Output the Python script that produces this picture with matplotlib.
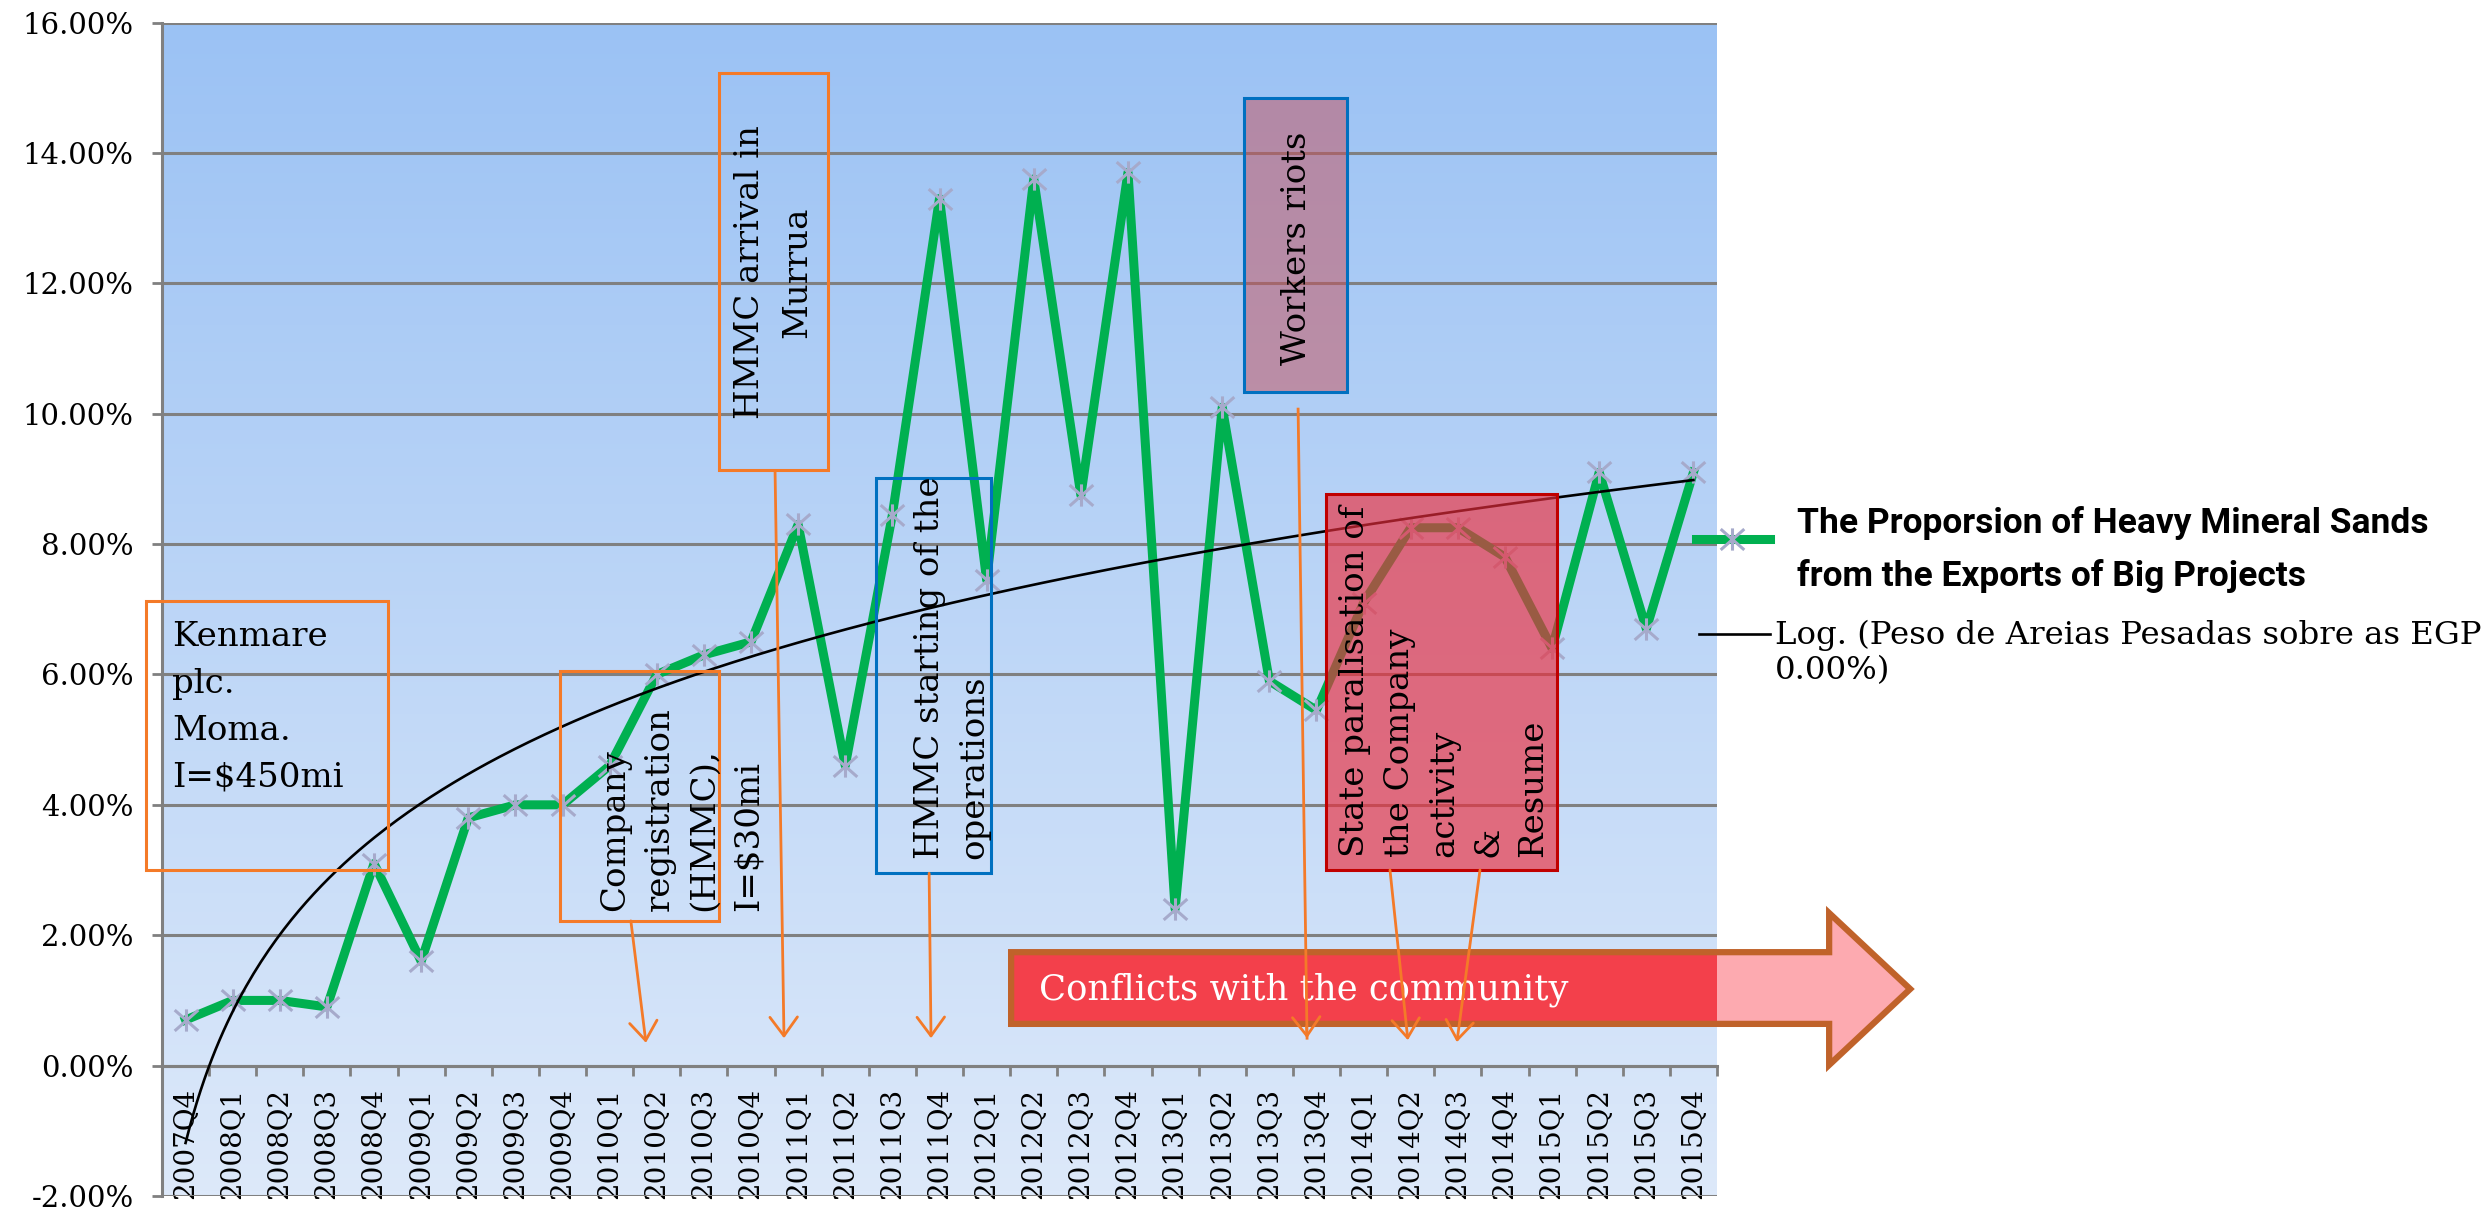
import numpy as np
import matplotlib.pyplot as plt
from matplotlib.colors import LinearSegmentedColormap
from matplotlib.patches import Rectangle, Polygon
from matplotlib.lines import Line2D
from matplotlib.path import Path

plt.rcParams['font.family'] = 'DejaVu Serif'

quarters = ['2007Q4', '2008Q1', '2008Q2', '2008Q3', '2008Q4', '2009Q1', '2009Q2',
            '2009Q3', '2009Q4', '2010Q1', '2010Q2', '2010Q3', '2010Q4', '2011Q1',
            '2011Q2', '2011Q3', '2011Q4', '2012Q1', '2012Q2', '2012Q3', '2012Q4',
            '2013Q1', '2013Q2', '2013Q3', '2013Q4', '2014Q1', '2014Q2', '2014Q3',
            '2014Q4', '2015Q1', '2015Q2', '2015Q3', '2015Q4']
# share of heavy mineral sands in big-project exports (%)
share = [0.7, 1.0, 1.0, 0.9, 3.1, 1.6, 3.8, 4.0, 4.0, 4.6, 6.0, 6.3, 6.5, 8.3,
         4.6, 8.45, 13.3, 7.45, 13.6, 8.75, 13.7, 2.4, 10.1, 5.9, 5.45, 7.1,
         8.25, 8.25, 7.8, 6.4, 9.1, 6.7, 9.1]
yticks = [-2, 0, 2, 4, 6, 8, 10, 12, 14, 16]

green = '#00B050'
orange = '#F47A28'
blue = '#0070C0'
grey = '#808080'
star_col = '#A6AACB'

# excel style star marker: vertical stroke plus an x
star = Path([(0, -0.8), (0, 0.8), (-0.85, -0.75), (0.85, 0.75), (-0.85, 0.75), (0.85, -0.75)],
            [Path.MOVETO, Path.LINETO, Path.MOVETO, Path.LINETO, Path.MOVETO, Path.LINETO])

fig = plt.figure(figsize=(24.86, 12.10), dpi=100)
ax = fig.add_axes([162 / 2486, 1 - 1196 / 1210, 1555 / 2486, (1196 - 22.5) / 1210])

x = np.arange(len(quarters))

# plot area gradient
bg = LinearSegmentedColormap.from_list('bg', ['#DDE9FA', '#9BC2F4'])
ax.imshow(np.linspace(0, 1, 256).reshape(-1, 1), extent=[-0.5, 32.5, -2, 16],
          aspect='auto', cmap=bg, origin='lower', zorder=0)

ax.plot(x, share, color=green, lw=6.5, marker=star, ms=17, mec=star_col, mew=2.2,
        zorder=3)

# logarithmic trend line
xf = np.arange(1, len(share) + 1)
a, b = np.polyfit(np.log(xf), share, 1)
xs = np.linspace(1, len(share), 400)
ax.plot(xs - 1, a * np.log(xs) + b, color='black', lw=1.9, zorder=4)

ax.set_xlim(-0.5, 32.5)
ax.set_ylim(-2, 16)

for s in ['top', 'right']:
    ax.spines[s].set_visible(False)
ax.spines['left'].set_color(grey)
ax.spines['left'].set_linewidth(2.2)
ax.spines['bottom'].set_position(('data', 0))
ax.spines['bottom'].set_color(grey)
ax.spines['bottom'].set_linewidth(2.2)

ax.set_yticks(yticks)
ax.set_yticklabels([f'{v:.2f}%' for v in yticks])
ax.tick_params(axis='y', direction='out', length=7.5, width=2, color=grey,
               labelsize=21, pad=13)
ax.yaxis.grid(True, color=grey, lw=2.2)
ax.set_axisbelow(True)

ax.set_xticks(x)
ax.set_xticklabels(quarters, rotation=90)
ax.set_xticks(np.arange(-0.5, 33, 1), minor=True)
ax.tick_params(axis='x', which='major', length=0, labelsize=20, pad=16)
ax.tick_params(axis='x', which='minor', direction='out', length=7.5, width=2, color=grey)


def box(x0, y0, x1, y1, edge, face='none', z=5):
    ax.add_patch(Rectangle((x0, y0), x1 - x0, y1 - y0, facecolor=face, edgecolor=edge,
                           lw=2.2, clip_on=False, zorder=z))


def pointer(x0, y0, x1, y1):
    ax.annotate('', xy=(x1, y1), xytext=(x0, y0), zorder=8,
                arrowprops=dict(arrowstyle='->, head_length=0.45, head_width=0.33',
                                color=orange, lw=2, mutation_scale=30,
                                shrinkA=0, shrinkB=0))


note = dict(fontsize=24.5, zorder=9)

# Kenmare
box(-0.84, 3.0, 4.30, 7.12, orange)
ax.text(-0.29, 6.82, 'Kenmare\nplc.\nMoma.\nI=\\$450mi', ha='left', va='top',
        linespacing=1.6, **note)
pointer(0.35, 3.0, -0.80, 0.51)

# HMMC arrival
box(11.32, 9.13, 13.63, 15.22, orange)
ax.text(12.48, 12.17, 'HMMC arrival in\nMurrua', rotation=90, ha='center',
        va='center', multialignment='center', linespacing=1.6, **note)
pointer(12.51, 9.13, 12.70, 0.42)

# company registration
box(7.95, 2.22, 11.32, 6.05, orange)
ax.text(10.54, 2.37, 'Company\nregistration\n(HMMC),\nI=\\$30mi', rotation=90,
        ha='center', va='bottom', multialignment='left', linespacing=1.5, **note)
pointer(9.45, 2.22, 9.77, 0.35)

# start of operations
box(14.65, 2.95, 17.09, 9.01, blue)
ax.text(16.27, 3.17, 'HMMC starting of the\noperations', rotation=90, ha='center',
        va='bottom', multialignment='left', linespacing=1.5, **note)
pointer(15.78, 2.95, 15.82, 0.42)

# workers riots
box(22.46, 10.33, 24.65, 14.84, blue, face=(0.78, 0.31, 0.35, 0.5))
ax.text(23.58, 12.54, 'Workers riots', rotation=90, ha='center', va='center', **note)
ax.plot([23.61, 23.80], [10.07, 0.42], color=orange, lw=2, zorder=8)
pointer(23.79, 0.6, 23.80, 0.42)

# conflicts arrow
body_lo, body_hi, head_lo, head_hi = 0.64, 1.74, 0.01, 2.34
tail, neck, tip = 17.52, 34.88, 36.60
shape = [(tail, body_lo), (neck, body_lo), (neck, head_lo), (tip, (head_lo + head_hi) / 2),
         (neck, head_hi), (neck, body_hi), (tail, body_hi)]
ax.add_patch(Polygon(shape, closed=True, facecolor='#FDAAB0', edgecolor='none',
                     clip_on=False, zorder=6))
ax.add_patch(Polygon(shape, closed=True, facecolor='#F3404B', edgecolor='none',
                     clip_on=True, zorder=6))
ax.add_patch(Polygon(shape, closed=True, facecolor='none', edgecolor='#C0622A',
                     lw=4.5, joinstyle='miter', clip_on=False, zorder=6))
ax.text(18.11, 1.17, 'Conflicts with the community', color='white', fontsize=25.5,
        ha='left', va='center', zorder=7)

# state paralisation
box(24.20, 3.0, 29.11, 8.77, '#C00000', face=(0.93, 0.18, 0.24, 0.65), z=5)
ax.text(26.71, 3.20, 'State paralisation of\nthe Company\nactivity\n&\nResume',
        rotation=90, ha='center', va='bottom', multialignment='left',
        linespacing=1.5, **note)
pointer(25.56, 3.0, 25.94, 0.39)
pointer(27.47, 3.0, 26.98, 0.36)

# legend
fig.add_artist(Line2D([0.6822, 0.7120], [0.5545, 0.5545], color=green, lw=6.5))
fig.add_artist(Line2D([0.6967], [0.5545], marker=star, ms=17, mec=star_col, mew=2.2,
                      color=green, lw=0))
fig.text(0.7228, 0.5455, 'The Proporsion of Heavy Mineral Sands\nfrom the Exports of Big Projects',
         fontsize=25.5, fontweight='bold', family=['Roboto', 'DejaVu Sans'],
         ha='left', va='center', linespacing=1.7)
fig.add_artist(Line2D([0.6834, 0.7120], [0.4760, 0.4760], color='black', lw=1.9))
fig.text(0.7140, 0.4605, 'Log. (Peso de Areias Pesadas sobre as EGP\n0.00%)', fontsize=23.3,
         ha='left', va='center', linespacing=1.2)

fig.savefig('out.png', dpi=100)
